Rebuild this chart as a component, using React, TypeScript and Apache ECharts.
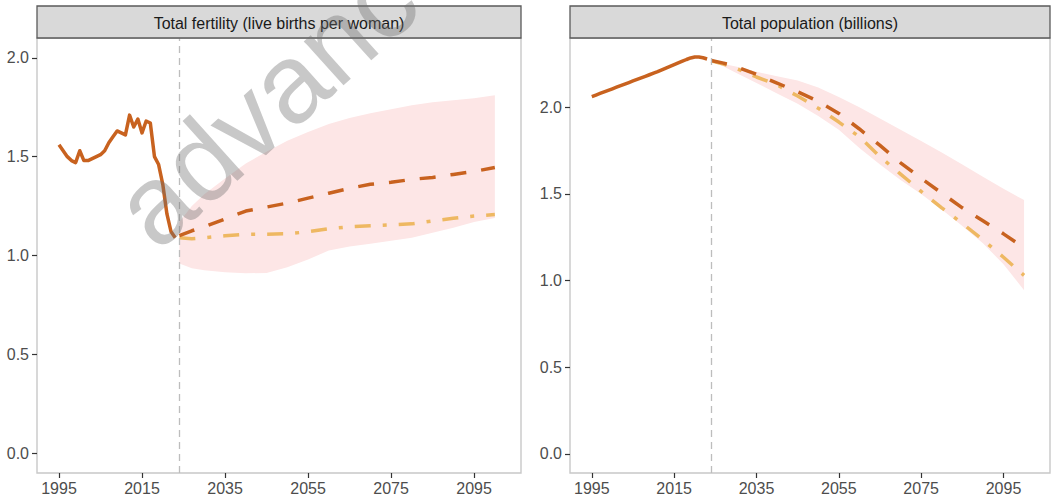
import React, { useEffect, useRef } from "react";
import * as echarts from "echarts";

// ---------- data ----------
const histYears = [
  1995, 1996, 1997, 1998, 1999, 2000, 2001, 2002, 2003, 2004, 2005, 2006, 2007, 2008, 2009,
  2010, 2011, 2012, 2013, 2014, 2015, 2016, 2017, 2018, 2019, 2020, 2021, 2022, 2023,
];
const tfrHist = [
  1.56, 1.53, 1.5, 1.48, 1.47, 1.53, 1.48, 1.48, 1.49, 1.5, 1.51, 1.53, 1.57, 1.6, 1.63,
  1.62, 1.61, 1.71, 1.65, 1.69, 1.62, 1.68, 1.67, 1.5, 1.46, 1.36, 1.21, 1.12, 1.09,
];
const popHist = [
  2.062, 2.071, 2.08, 2.089, 2.098, 2.107, 2.116, 2.125, 2.134, 2.143, 2.152, 2.161, 2.17, 2.179, 2.188,
  2.197, 2.206, 2.216, 2.226, 2.236, 2.246, 2.256, 2.266, 2.276, 2.285, 2.29, 2.29, 2.286, 2.279,
];

const projYears = [2024, 2027, 2030, 2035, 2040, 2045, 2050, 2055, 2060, 2065, 2070, 2075, 2080, 2085, 2090, 2095, 2100];
const tfrMedian = [1.1, 1.125, 1.145, 1.185, 1.225, 1.245, 1.265, 1.29, 1.315, 1.34, 1.36, 1.37, 1.385, 1.395, 1.41, 1.425, 1.445];
const tfrLow = [1.09, 1.085, 1.09, 1.1, 1.107, 1.108, 1.11, 1.12, 1.135, 1.145, 1.15, 1.155, 1.16, 1.175, 1.188, 1.2, 1.207];
const tfrUpper = [1.17, 1.25, 1.31, 1.39, 1.465, 1.525, 1.58, 1.625, 1.665, 1.695, 1.72, 1.74, 1.76, 1.775, 1.785, 1.795, 1.81];
const tfrLower = [0.96, 0.935, 0.925, 0.915, 0.91, 0.912, 0.94, 0.98, 1.025, 1.045, 1.06, 1.075, 1.09, 1.115, 1.14, 1.17, 1.19];

const popMedian = [2.27, 2.255, 2.235, 2.19, 2.14, 2.09, 2.035, 1.965, 1.875, 1.78, 1.68, 1.59, 1.505, 1.42, 1.345, 1.27, 1.19];
const popLow = [2.268, 2.25, 2.225, 2.175, 2.13, 2.065, 1.995, 1.915, 1.83, 1.715, 1.615, 1.515, 1.42, 1.33, 1.235, 1.135, 1.03];
const popUpper = [2.275, 2.25, 2.235, 2.205, 2.18, 2.155, 2.115, 2.06, 2.0, 1.935, 1.87, 1.805, 1.74, 1.67, 1.6, 1.53, 1.465];
const popLower = [2.265, 2.235, 2.2, 2.14, 2.08, 2.02, 1.95, 1.87, 1.765, 1.67, 1.58, 1.5, 1.41, 1.315, 1.215, 1.095, 0.945];

const xTicks = [1995, 2015, 2035, 2055, 2075, 2095];
const yTicks = [0, 0.5, 1.0, 1.5, 2.0];
const projectionStart = 2024;
const panelTitles = ["Total fertility (live births per woman)", "Total population (billions)"];
const watermark = "advance";

// ---------- styling ----------
const FONT = "Liberation Sans, Arial, sans-serif";
const DARK = "#C8621F";
const LIGHT = "#EEB862";
const BAND = "#FDE6E6";

const pairs = (xs: number[], ys: number[]) => xs.map((x, i) => [x, ys[i]]);

function xAxisFor(gridIndex: number) {
  return {
    type: "value",
    gridIndex,
    position: "bottom",
    min: 1989.7,
    max: 2106.3,
    splitLine: { show: false },
    axisLine: { show: false, onZero: false },
    axisTick: {
      show: true,
      customValues: xTicks,
      length: 5,
      lineStyle: { color: "#333333", width: 1.2 },
    },
    axisLabel: {
      customValues: xTicks,
      margin: 7,
      fontSize: 16,
      color: "#4D4D4D",
      fontFamily: FONT,
      formatter: (v: number) => String(Math.round(v)),
    },
  };
}

function yAxisFor(gridIndex: number, min: number, max: number) {
  return {
    type: "value",
    gridIndex,
    position: "left",
    min,
    max,
    splitLine: { show: false },
    axisLine: { show: false, onZero: false },
    axisTick: {
      show: true,
      customValues: yTicks,
      length: 5,
      lineStyle: { color: "#333333", width: 1.2 },
    },
    axisLabel: {
      customValues: yTicks,
      margin: 8,
      fontSize: 16,
      color: "#4D4D4D",
      fontFamily: FONT,
      formatter: (v: number) => v.toFixed(1),
    },
  };
}

function panelSeries(
  idx: number,
  hist: number[],
  median: number[],
  low: number[],
  upper: number[],
  lower: number[]
) {
  return [
    {
      type: "custom",
      xAxisIndex: idx,
      yAxisIndex: idx,
      silent: true,
      clip: true,
      z: 1,
      data: [[projYears[0], upper[0]]],
      renderItem: (_params: any, api: any) => {
        const pts: number[][] = [];
        for (let i = 0; i < projYears.length; i++) pts.push(api.coord([projYears[i], upper[i]]));
        for (let i = projYears.length - 1; i >= 0; i--) pts.push(api.coord([projYears[i], lower[i]]));
        return { type: "polygon", shape: { points: pts }, style: { fill: BAND } };
      },
    },
    {
      type: "line",
      xAxisIndex: idx,
      yAxisIndex: idx,
      data: pairs(histYears, hist),
      symbol: "none",
      z: 3,
      lineStyle: { color: DARK, width: 3.5, cap: "butt", join: "round" },
      markLine: {
        silent: true,
        symbol: "none",
        label: { show: false },
        lineStyle: { color: "#BDBDBD", type: [7, 5], width: 1.3 },
        data: [{ xAxis: projectionStart }],
      },
    },
    {
      type: "line",
      xAxisIndex: idx,
      yAxisIndex: idx,
      data: pairs(projYears, low),
      symbol: "none",
      z: 3,
      lineStyle: { color: LIGHT, width: 3.5, type: [16, 12, 4, 12] },
    },
    {
      type: "line",
      xAxisIndex: idx,
      yAxisIndex: idx,
      data: pairs(projYears, median),
      symbol: "none",
      z: 4,
      lineStyle: { color: DARK, width: 3.5, type: [16, 15] },
    },
  ];
}

const grids = [
  { left: 37, top: 38, width: 484, height: 435 },
  { left: 570, top: 38, width: 480, height: 435 },
];

function strip(g: { left: number; width: number }, title: string) {
  return [
    {
      type: "rect",
      z: 50,
      shape: { x: g.left, y: 6, width: g.width, height: 32 },
      style: { fill: "#D9D9D9", stroke: "#5A5A5A", lineWidth: 1.3 },
    },
    {
      type: "text",
      z: 51,
      x: g.left + g.width / 2,
      y: 23,
      style: {
        text: title,
        fontSize: 16,
        fontFamily: FONT,
        fill: "#1A1A1A",
        align: "center",
        verticalAlign: "middle",
      },
    },
  ];
}

export default function App() {
  const ref = useRef<HTMLDivElement>(null);
  useEffect(() => {
    if (!ref.current) return;
    const chart = echarts.init(ref.current, null, { renderer: "svg" });
    const rot = (42 * Math.PI) / 180;
    chart.setOption({
      animation: false,
      backgroundColor: "#FFFFFF",
      grid: grids.map((g) => ({
        ...g,
        show: true,
        borderColor: "#C8C8C8",
        borderWidth: 1.4,
        backgroundColor: "transparent",
      })),
      xAxis: [xAxisFor(0), xAxisFor(1)],
      yAxis: [yAxisFor(0, -0.1, 2.1), yAxisFor(1, -0.11, 2.4)],
      series: [
        ...panelSeries(0, tfrHist, tfrMedian, tfrLow, tfrUpper, tfrLower),
        ...panelSeries(1, popHist, popMedian, popLow, popUpper, popLower),
      ],
      graphic: [
        ...strip(grids[0], panelTitles[0]),
        ...strip(grids[1], panelTitles[1]),
        {
          type: "text",
          z: 100,
          x: 169,
          y: 266,
          rotation: rot,
          silent: true,
          style: {
            text: watermark,
            fontSize: 112,
            fontFamily: FONT,
            fill: "rgba(110,110,110,0.38)",
            align: "left",
            verticalAlign: "bottom",
          },
        },
      ],
    });
    return () => chart.dispose();
  }, []);
  return (
    <div
      ref={ref}
      style={{ position: "fixed", left: 0, top: 0, width: 1062, height: 500 }}
    />
  );
}
